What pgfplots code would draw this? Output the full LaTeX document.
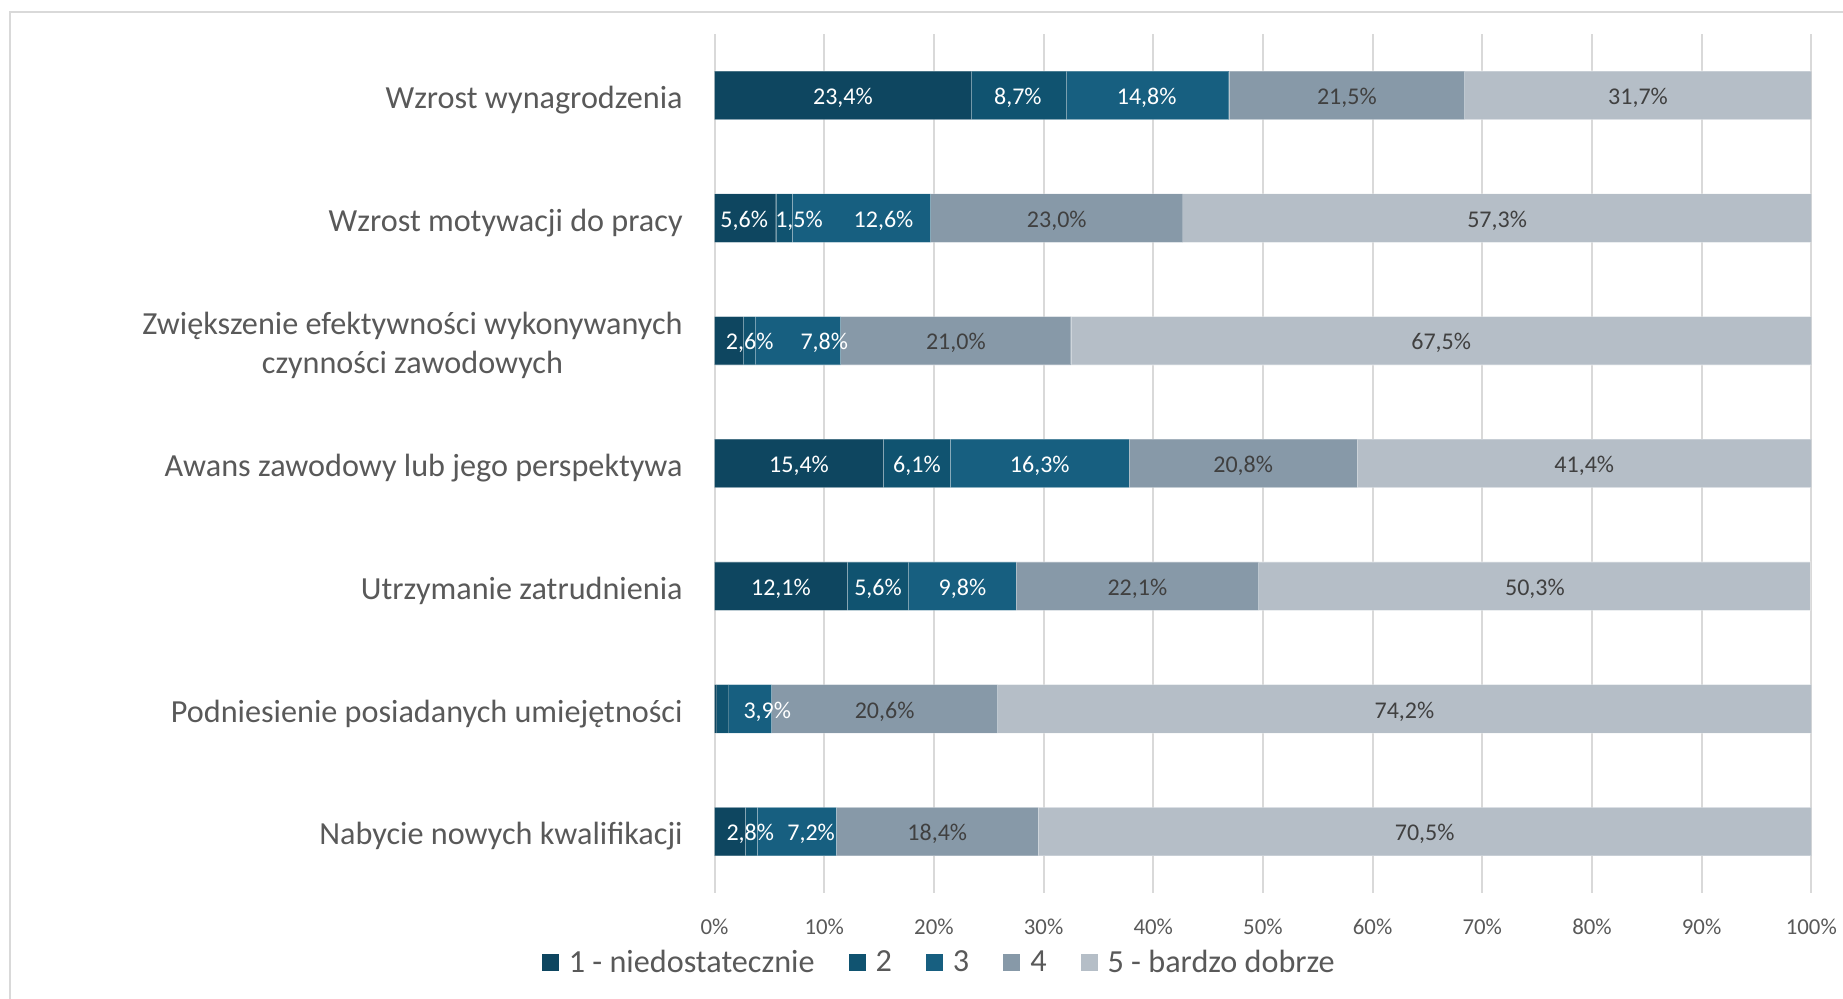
\documentclass[border=0pt]{standalone}
\usepackage{fontspec}
\setmainfont{Carlito}
\usepackage{pgfplots}
\pgfplotsset{compat=1.18}
\definecolor{cA}{HTML}{0E4660}
\definecolor{cB}{HTML}{105370}
\definecolor{cC}{HTML}{175F80}
\definecolor{cD}{HTML}{8799A8}
\definecolor{cE}{HTML}{B5BEC7}
\definecolor{txt}{HTML}{595959}
\definecolor{dlab}{HTML}{404040}
\definecolor{gridc}{HTML}{D9D9D9}
\pgfplotsset{
  mybar/.style={fill=#1, draw=white, draw opacity=0.25, line width=0.6pt,
    legend image code/.code={\fill[fill=#1, draw=none] (0pt,-4.25pt) rectangle (8.5pt,4.25pt);}},
  common/.style={at={(357.3pt,53pt)}, anchor=south west, scale only axis,
    width=548.35pt, height=429.5pt, xmin=0, xmax=100, ymin=-0.5, ymax=6.5},
}
\newcommand{\bigf}{\fontsize{16.1}{19.6}\selectfont}
\newcommand{\labf}{\fontsize{12}{14}\selectfont}
\begin{document}
\begin{tikzpicture}
\path[use as bounding box] (0,0) rectangle (921.5pt,499.5pt);
\draw[gridc, line width=1pt] (5pt,0) -- (5pt,493.5pt) -- (921.5pt,493.5pt);
\begin{axis}[common,
  xbar stacked, bar width=24.25pt,
  axis line style={draw=none},
  xmajorgrids, grid style={gridc, line width=1pt},
  xtick={0,10,...,100},
  xticklabel={\pgfmathprintnumber{\tick}\%},
  /pgf/number format/assume math mode=true,
  xticklabel style={font=\fontsize{11.4}{13}\selectfont, text=txt, anchor=center, yshift=-17pt},
  ytick={0,1,2,3,4,5,6},
  yticklabels={Nabycie nowych kwalifikacji, Podniesienie posiadanych umiejętności, Utrzymanie zatrudnienia, Awans zawodowy lub jego perspektywa, {Zwiększenie efektywności wykonywanych\\czynności zawodowych}, Wzrost motywacji do pracy, Wzrost wynagrodzenia},
  yticklabel style={font=\bigf, text=txt, align=center, anchor=east, inner sep=0pt, xshift=-15.8pt, yshift=-2.4pt},
  major tick length=0pt, tick style={draw=none},
  legend style={at={(0.2058,-0.0815)}, anchor=center, draw=none, fill=none,
    font=\bigf, text=txt, inner sep=0pt,
    /tikz/every odd column/.append style={column sep=3pt},
    /tikz/every even column/.append style={column sep=15pt}},
  legend columns=-1,
]
\addplot[mybar=cA] coordinates {(2.8,0) (0.2,1) (12.1,2) (15.4,3) (2.6,4) (5.6,5) (23.4,6)};
\addplot[mybar=cB] coordinates {(1.1,0) (1.1,1) (5.6,2) (6.1,3) (1.1,4) (1.5,5) (8.7,6)};
\addplot[mybar=cC] coordinates {(7.2,0) (3.9,1) (9.8,2) (16.3,3) (7.8,4) (12.6,5) (14.8,6)};
\addplot[mybar=cD] coordinates {(18.4,0) (20.6,1) (22.1,2) (20.8,3) (21.0,4) (23.0,5) (21.5,6)};
\addplot[mybar=cE] coordinates {(70.5,0) (74.2,1) (50.3,2) (41.4,3) (67.5,4) (57.3,5) (31.7,6)};
\legend{1 - niedostatecznie, 2, 3, 4, 5 - bardzo dobrze}
\end{axis}
\begin{axis}[common, hide axis, clip=false]
\addplot[only marks, mark=*, mark size=0pt, mark options={draw=none, fill=none},
  nodes near coords, point meta=explicit symbolic,
  every node near coord/.append style={anchor=base, yshift=-4.6pt, inner sep=0pt, text=white, font=\labf}]
coordinates {
(11.7,6) [23,4\%] (27.65,6) [8,7\%] (39.4,6) [14,8\%]
(2.7,5) [5,6\%] (7.7,5) [1,5\%] (15.4,5) [12,6\%]
(3.2,4) [2,6\%] (10.0,4) [7,8\%]
(7.7,3) [15,4\%] (18.45,3) [6,1\%] (29.65,3) [16,3\%]
(6.05,2) [12,1\%] (14.9,2) [5,6\%] (22.6,2) [9,8\%]
(4.8,1) [3,9\%]
(3.25,0) [2,8\%] (8.8,0) [7,2\%]
};
\addplot[only marks, mark=*, mark size=0pt, mark options={draw=none, fill=none},
  nodes near coords, point meta=explicit symbolic,
  every node near coord/.append style={anchor=base, yshift=-4.6pt, inner sep=0pt, text=dlab, font=\labf}]
coordinates {
(57.65,6) [21,5\%] (84.2,6) [31,7\%]
(31.2,5) [23,0\%] (71.35,5) [57,3\%]
(22.0,4) [21,0\%] (66.25,4) [67,5\%]
(48.2,3) [20,8\%] (79.3,3) [41,4\%]
(38.55,2) [22,1\%] (74.8,2) [50,3\%]
(15.5,1) [20,6\%] (62.9,1) [74,2\%]
(20.3,0) [18,4\%] (64.75,0) [70,5\%]
};
\end{axis}
\end{tikzpicture}
\end{document}
